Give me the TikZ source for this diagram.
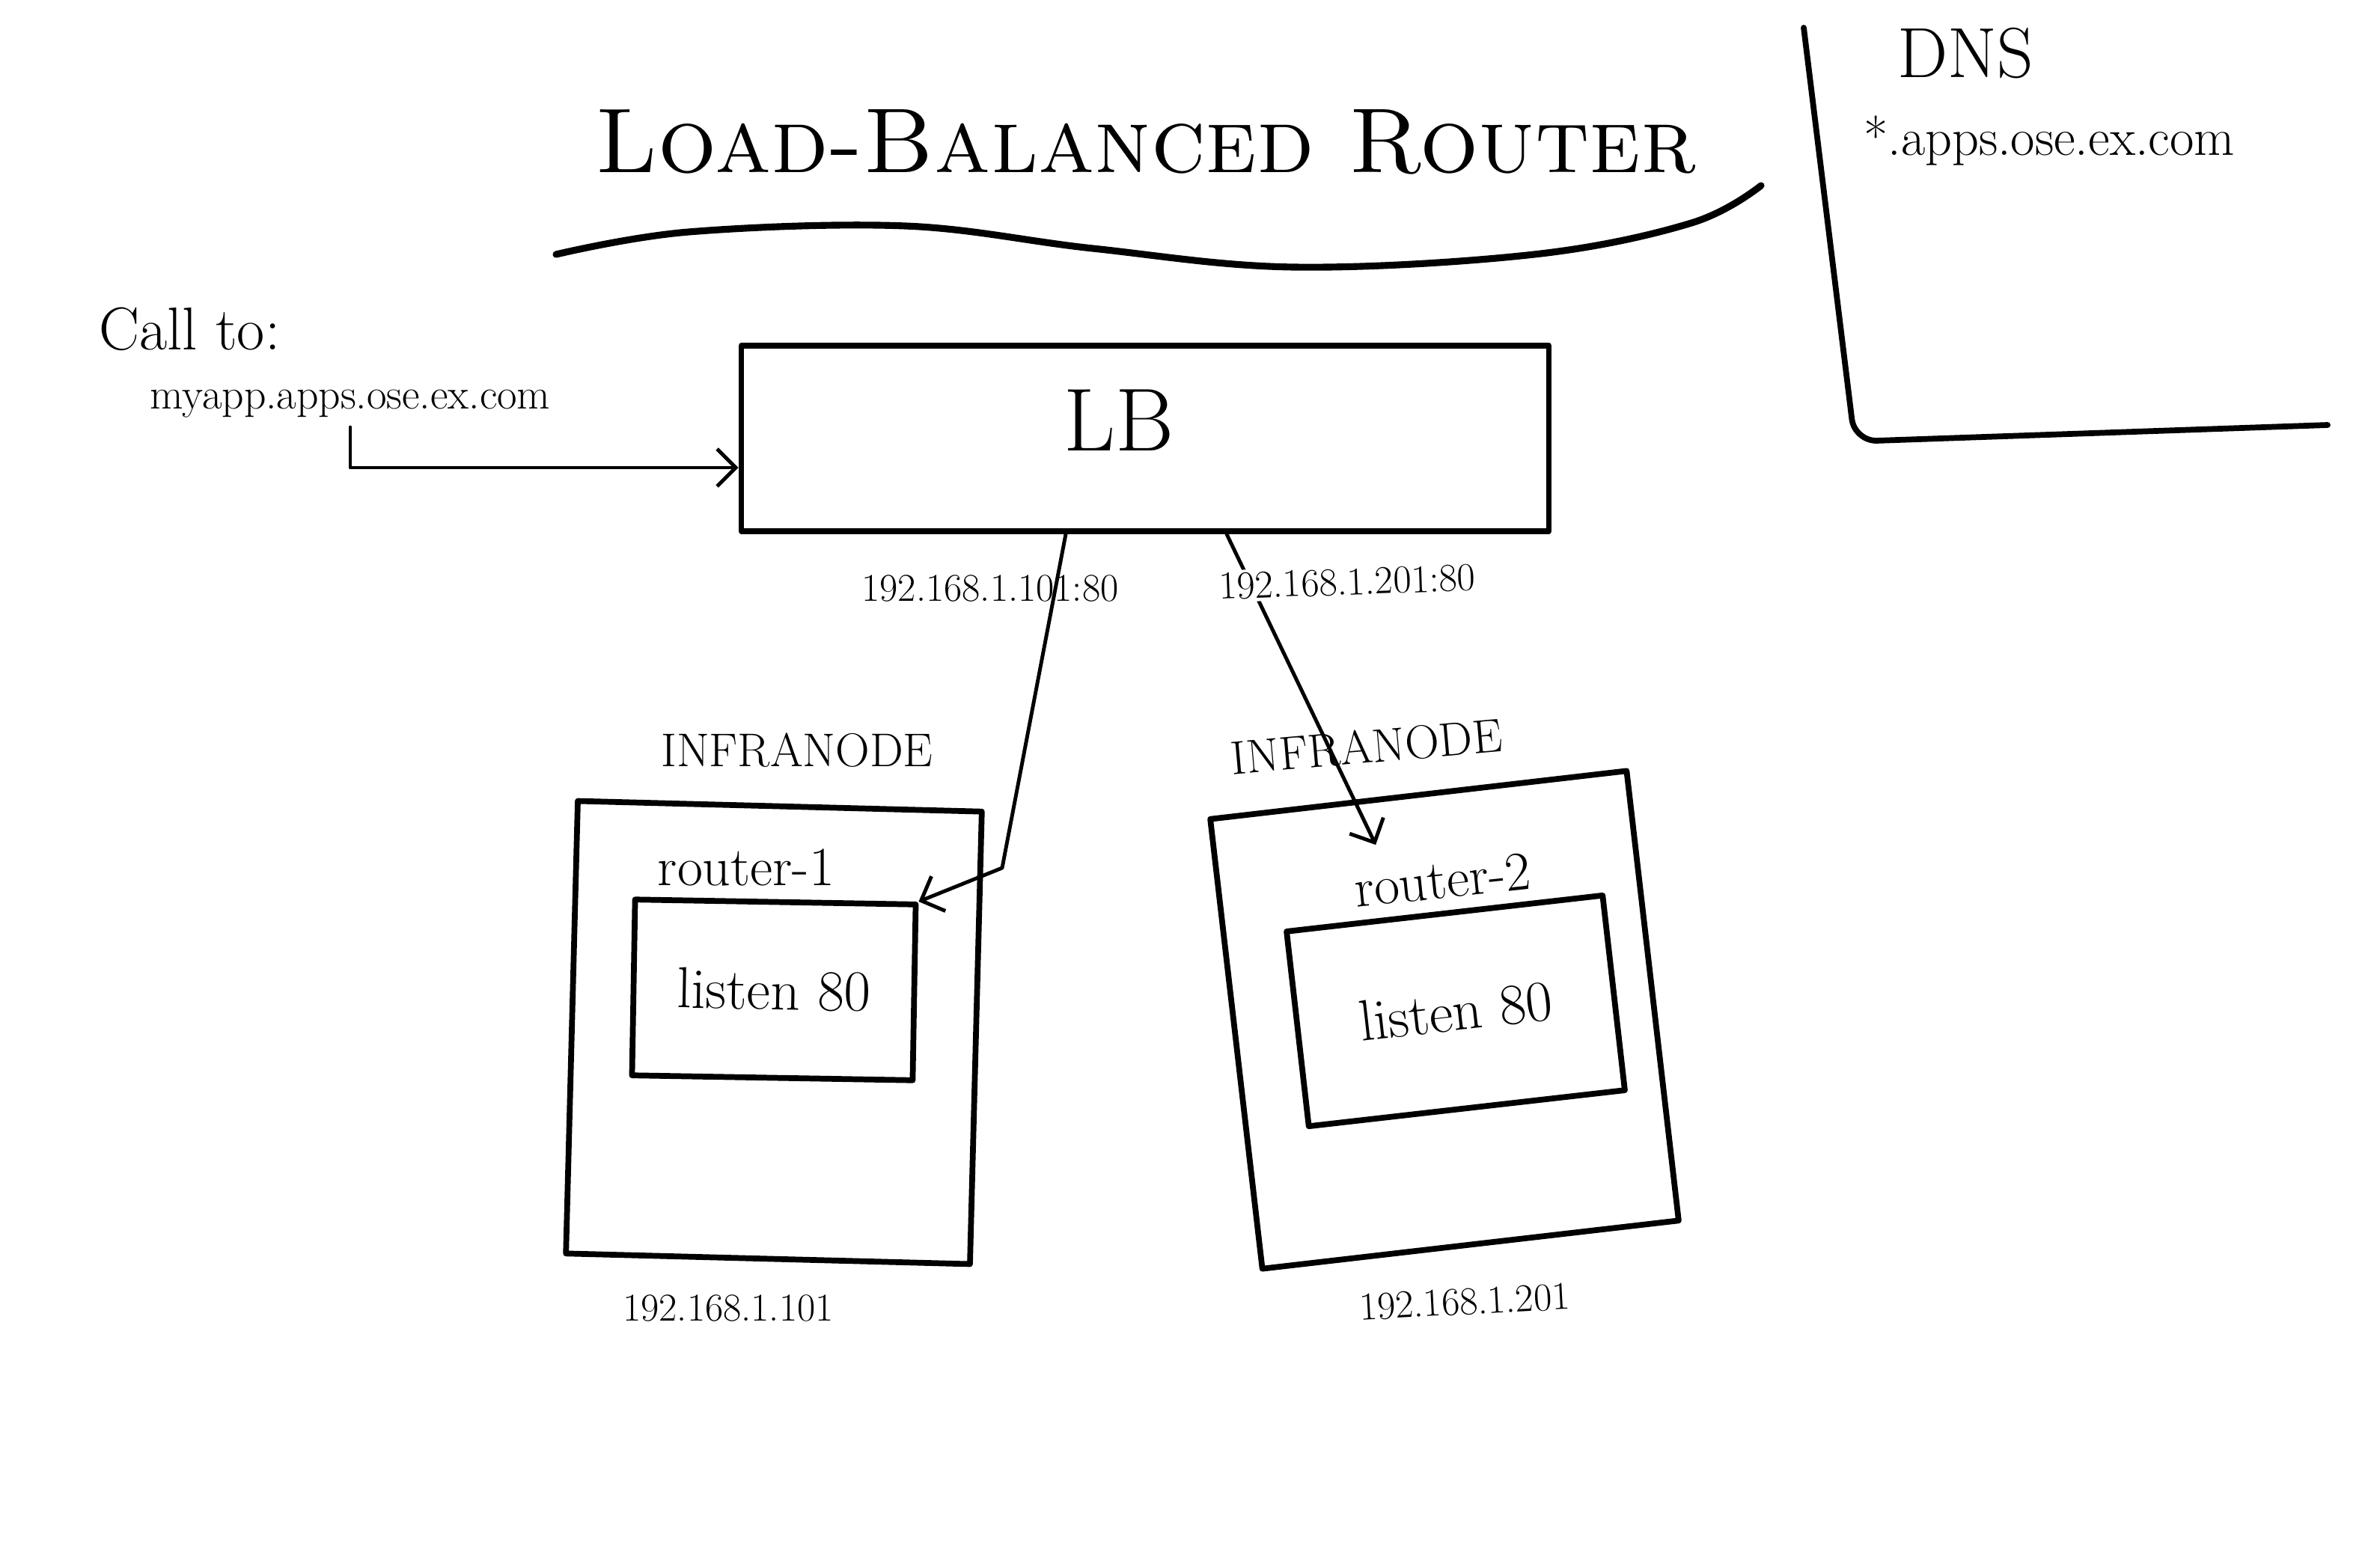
\documentclass[tikz,border=0pt]{standalone}
\usetikzlibrary{arrows.meta}
\tikzset{
  box/.style={draw, line width=2.2pt, rectangle, inner sep=0pt},
  wire/.style={line width=1.4pt, -{Straight Barb[length=2.5mm,width=5mm]}},
  ipfont/.style={font=\fontsize{15}{18}\selectfont},
}
\begin{document}
\begin{tikzpicture}[line cap=round, line join=round]
 \useasboundingbox[fill=white] (0,0) rectangle (31.8,-20.92);
 % title
 \node (title) at (15.31,-1.90) {\fontsize{35}{42}\selectfont\textsc{Load-Balanced Router}};
 \draw[line width=2.6pt] plot[smooth, tension=0.6] coordinates {(7.43,-3.40) (9.2,-3.10) (12.10,-3.02) (14.6,-3.32) (17.30,-3.57) (20.5,-3.40) (22.6,-2.98) (23.53,-2.48)};
 % dns corner
 \draw[line width=2.2pt, rounded corners=0.3cm] (24.10,-0.37) -- (24.78,-5.90) -- (31.10,-5.68);
 \node (dns) at (26.26,-0.71) {\fontsize{27}{32}\selectfont DNS};
 \node (wild) at (27.38,-1.88) {\fontsize{20}{24}\selectfont *.apps.ose.ex.com};
 % incoming call
 \node[anchor=west] (callto) at (1.20,-4.40) {\fontsize{23}{27}\selectfont Call to:};
 \node (myapp) at (4.68,-5.40) {\fontsize{16.4}{19}\selectfont myapp.apps.ose.ex.com};
 \node[box, minimum width=10.79cm, minimum height=2.48cm] (lb) at (15.30,-5.86) {};
 \node[font=\fontsize{34}{40}\selectfont] (lbtxt) at (14.95,-5.62) {LB};
 \draw[wire] (myapp.south) |- ([yshift=-0.39cm]lb.west);
 % infranode 1
 \node[font=\fontsize{18}{22}\selectfont] (inf1) at (10.65,-10.03) {INFRANODE};
 \node[box, minimum width=5.4cm, minimum height=6.05cm, rotate=-1.5] (node1) at (10.34,-13.80) {};
 \node[font=\fontsize{21}{25}\selectfont] (r1lbl) at (9.97,-11.59) {router-1};
 \node[box, minimum width=3.75cm, minimum height=2.35cm, rotate=-1, font=\fontsize{22}{26}\selectfont] (r1) at (10.34,-13.23) {listen 80};
 \node[ipfont] (host1) at (9.73,-17.48) {192.168.1.101};
 % infranode 2
 \node[font=\fontsize{18}{22}\selectfont, rotate=5] (inf2) at (18.26,-9.98) {INFRANODE};
 \node[box, minimum width=5.6cm, minimum height=6.05cm, rotate=6.6] (node2) at (19.30,-13.63) {};
 \node[font=\fontsize{21}{25}\selectfont, rotate=6] (r2lbl) at (19.27,-11.76) {router-2};
 \node[box, minimum width=4.25cm, minimum height=2.62cm, rotate=6.5, font=\fontsize{22}{26}\selectfont] (r2) at (19.45,-13.51) {listen 80};
 \node[ipfont, rotate=3] (host2) at (19.57,-17.40) {192.168.1.201};
 % wires from lb
 \coordinate (bend1) at (13.39,-11.60);
 \draw[wire] ([xshift=-1.06cm]lb.south) -- (bend1) -- (r1.north east);
 \draw[wire] ([xshift=1.09cm]lb.south) -- ([xshift=-0.85cm,yshift=0.1cm]r2lbl.north);
 \node[ipfont] (ip1) at (13.23,-7.86) {192.168.1.101:80};
 \node[ipfont, rotate=2, fill=white, inner sep=1pt] (ip2) at (18.00,-7.78) {192.168.1.201:80};
\end{tikzpicture}
\end{document}
